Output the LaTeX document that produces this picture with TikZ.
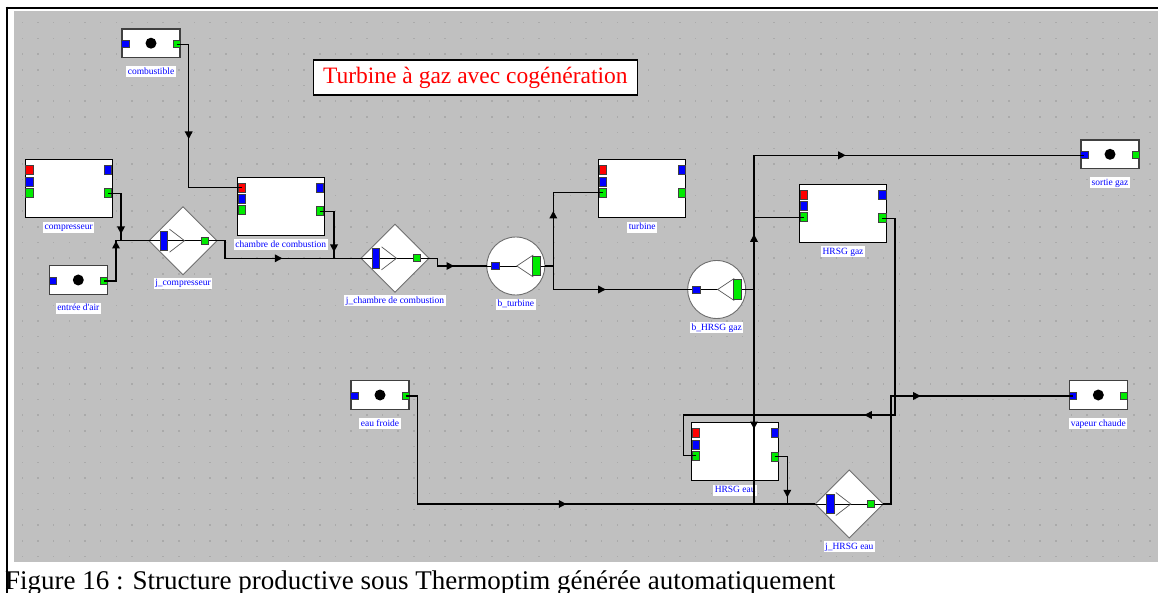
\documentclass[tikz,border=0pt]{standalone}
\usepackage{fontspec}
\setmainfont{Liberation Serif}
\usetikzlibrary{decorations.markings}

\definecolor{bggray}{RGB}{192,192,192}
\definecolor{dotgray}{RGB}{170,170,170}
\definecolor{pred}{RGB}{255,0,0}
\definecolor{pblue}{RGB}{0,0,255}
\definecolor{pgreen}{RGB}{0,235,0}
\definecolor{edge}{RGB}{64,64,64}
\definecolor{jedge}{RGB}{110,110,110}
\definecolor{lblue}{RGB}{0,0,255}

\tikzset{
  wire/.style={line width=1.1pt, black},
  port/.style={draw=edge, line width=0.6pt, inner sep=0pt, minimum width=7.3pt, minimum height=7pt},
  tallport/.style={port, minimum height=9pt},
  bar/.style={port, minimum height=19.5pt},
  lbl/.style={fill=white, text=lblue, font=\fontsize{9.5}{10}\selectfont,
    inner xsep=1.5pt, inner ysep=1pt, text height=7pt, text depth=2pt},
  srcbox/.style={draw=edge, line width=1.3pt, fill=white, minimum width=58pt,
    minimum height=28.5pt, inner sep=0pt},
  procbox/.style={draw=black, line width=1pt, fill=white, minimum width=87.3pt,
    minimum height=58.3pt, inner sep=0pt},
  chev/.style={black!65, line width=0.7pt},
  arrowat/.style={postaction={decorate, decoration={markings,
    mark=at position #1 with {\fill[black] (4pt,0pt)--(-3.5pt,4pt)--(-3.5pt,-4pt)--cycle;}}}},
  % source / sink: box with a dot, inlet (blue) and outlet (green)
  pics/source/.style={code={
    \node[srcbox] (-body) at (0,0) {};
    \fill[black] (0,0) circle[radius=5.5pt];
    \node[port, fill=pblue] (-in) at (-25.7,1) {};
    \node[port, fill=pgreen] (-out) at (25.7,1) {};
    \node[lbl] (-label) at (0,28.5) {#1};
  }},
  % process transfo: three ports on the left, two on the right
  pics/process/.style={code={
    \node[procbox] (-body) at (0,0) {};
    \node[tallport, fill=pred] (-lr) at (-39.3,-18.8) {};
    \node[tallport, fill=pblue] (-lb) at (-39.3,-7) {};
    \node[tallport, fill=pgreen] (-lg) at (-39.3,4) {};
    \node[tallport, fill=pblue] (-rb) at (39.3,-18.8) {};
    \node[tallport, fill=pgreen] (-rg) at (39.3,4.8) {};
    \node[lbl] (-label) at (0,38.6) {#1};
  }},
  % mixer (diamond)
  pics/junction/.style={code={
    \filldraw[fill=white, draw=jedge, line width=0.9pt] (-34,0)--(0,-34)--(34,0)--(0,34)--cycle;
    \coordinate (-w) at (-34,0);
    \coordinate (-e) at (34,0);
    \draw[wire, line width=0.8pt] (-34,0)--(34,0);
    \draw[chev] (-13.5,-11.5)--(1.5,0)--(-13.5,11.5);
    \node[bar, fill=pblue] (-in) at (-19,0) {};
    \node[port, fill=pgreen] (-out) at (21.5,0) {};
    \node[lbl] (-label) at (0,42.5) {#1};
  }},
  % divider (circle)
  pics/divider/.style={code={
    \filldraw[fill=white, draw=jedge, line width=0.9pt] (0,0) circle[radius=29pt];
    \coordinate (-w) at (-29,0);
    \coordinate (-e) at (29,0);
    \draw[wire, line width=0.8pt] (-29,0)--(1,0) (20.5,0)--(29,0);
    \draw[chev] (17.5,-11)--(1,0)--(17.5,11);
    \node[port, fill=pblue] (-in) at (-20.5,0) {};
    \node[bar, fill=pgreen] (-out) at (20.5,0) {};
    \node[lbl] (-label) at (0,38.2) {#1};
  }},
}

\begin{document}
\begin{tikzpicture}[x=1pt, y=-1pt]
\useasboundingbox (0,0) rectangle (1158,593);
\fill[white] (0,0) rectangle (1158,593);

% drawing area with its dotted grid
\fill[bggray] (14,11) rectangle (1158,562);
\foreach \i in {0,...,72}{
  \foreach \j in {0,...,34}{
    \fill[dotgray] ({22.3+15.66*\i-0.75},{22.7+15.7*\j-0.75}) rectangle ++(1.5,1.5);
  }
}
\draw[black, line width=2.2pt] (5.5,7.8) -- (1158,7.8);
\draw[black, line width=2.6pt] (6.8,6.7) -- (6.8,593);

% title
\node[draw=black, line width=1.2pt, fill=white, minimum width=324pt, minimum height=35pt,
  inner sep=0pt, text=red, font=\fontsize{23.5}{26}\selectfont] (title) at (475.3,77.5)
  {Turbine à gaz avec cogénération};

% sources and sinks
\pic (cmb) at (151,43.2) {source=combustible};
\pic (air) at (78.3,280) {source=entrée d\textquotesingle air};
\pic (efr) at (380,395) {source=eau froide};
\pic (sgz) at (1110,154.3) {source=sortie gaz};
\pic (vap) at (1098.3,395) {source=vapeur chaude};

% processes
\pic (comp) at (68.7,188.5) {process=compresseur};
\pic (cc) at (280.8,206.3) {process=chambre de combustion};
\pic (tur) at (642.2,188.5) {process=turbine};
\pic (hg) at (843,213.3) {process=HRSG gaz};
\pic (he) at (735.2,451.8) {process=HRSG eau};

% mixers and dividers
\pic (jc) at (183,240.7) {junction=j\_compresseur};
\pic (jk) at (395,258.3) {junction=j\_chambre de combustion};
\pic (jh) at (849.3,504) {junction=j\_HRSG eau};
\pic (bt) at (515.8,266) {divider=b\_turbine};
\pic (bh) at (716.7,289.5) {divider=b\_HRSG gaz};

% bend points of the flow lines
\coordinate (k1) at (188.7,100);
\coordinate (m0) at (116,240.7);
\coordinate (m1) at (121,240.7);
\coordinate (m2) at (225,240.7);
\coordinate (m3) at (334,258.3);
\coordinate (m4) at (437.3,258.3);
\coordinate (m5) at (553.3,266);
\coordinate (m6) at (754,289.5);
\coordinate (m7) at (895,415);
\coordinate (m8) at (683.3,415);
\coordinate (m9) at (787.3,504);
\coordinate (m10) at (417.3,504);
\coordinate (m11) at (891,450);

% flows
\draw[wire, arrowat=102.8pt] (cmb-out.center) -| (k1) |- (cc-lr.center);
\draw[wire, arrowat=49.7pt] (comp-rg.center) -| (m1);
\draw[wire, arrowat=48pt] (air-out.center) -| (m0) -- (jc-w);
\draw[wire, arrowat=78.9pt] (jc-e) -- (m2) |- (jk-w);
\draw[wire, arrowat=50.8pt] (cc-rg.center) -| (m3);
\draw[wire, arrowat=28.7pt] (jk-e) -- (m4) |- (bt-w);
\draw[wire, arrowat=59.5pt] (bt-e) -- (m5) |- (tur-lg.center);
\draw[wire, arrowat=71.9pt] (m5) |- (bh-w);
\draw[wire, arrowat=59.5pt, arrowat=230.2pt] (bh-e) -- (m6) |- (sgz-in.center);
\draw[wire] (m6 |- hg-lg.center) -- (hg-lg.center);
\draw[wire, arrowat=135.5pt] (m6) -- (m6 |- jh-w);
\draw[wire, arrowat=236.3pt] (hg-rg.center) -| (m7) -- (m8) |- (he-lg.center);
\draw[wire, arrowat=49.5pt] (he-rg.center) -| (m9);
\draw[wire, arrowat=264.6pt] (efr-out.center) -| (m10) -- (jh-w);
\draw[wire, arrowat=141.4pt] (jh-e) -| (m11) |- (vap-in.center);

% caption
\node[anchor=base west, inner sep=0pt, font=\fontsize{27}{30}\selectfont] (caption) at (5,589)
  {Figure 16 : Structure productive sous Thermoptim générée automatiquement};
\end{tikzpicture}
\end{document}
